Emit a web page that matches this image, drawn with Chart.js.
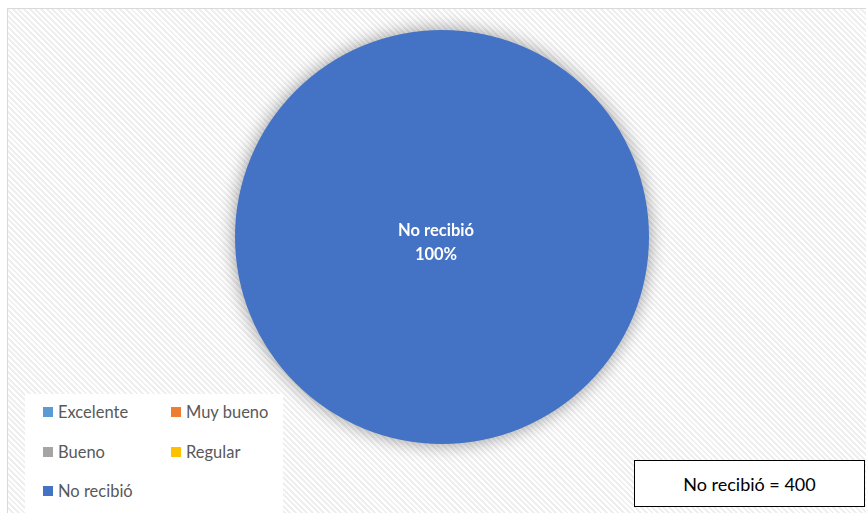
<!DOCTYPE html>
<html>
<head>
<meta charset="utf-8">
<script src="https://cdn.jsdelivr.net/npm/chart.js@4"></script>
<style>
  html, body { margin: 0; padding: 0; background: #fff; }
  #wrap {
    position: relative; width: 866px; height: 513px; overflow: hidden;
  }
  #frame {
    position: absolute; left: 7px; top: 8px; width: 880px; height: 520px;
    border-left: 1px solid #d9d9d9; border-top: 1px solid #d9d9d9;
    background: repeating-linear-gradient(45deg, #ffffff 0 2px, #efefef 2px 4px);
  }
  #chart { position: absolute; left: 0; top: 0; }
  #legend {
    position: absolute; left: 25px; top: 394px; width: 258px; height: 125px;
    background: #fff;
    font-family: Lato, "Open Sans", sans-serif; font-size: 16.5px; color: #595959;
  }
  .item { position: absolute; display: flex; align-items: center; white-space: nowrap; }
  .item i { display: inline-block; width: 10px; height: 10px; margin-right: 5px; }
  #note {
    position: absolute; left: 634px; top: 460px; width: 229px; height: 45px;
    border: 1.5px solid #000; background: #fff;
    font-family: Lato, "Open Sans", sans-serif; font-size: 18px; color: #000;
    display: flex; align-items: center; justify-content: center;
  }
</style>
</head>
<body>
<div id="wrap">
  <div id="frame"></div>
  <canvas id="chart" width="866" height="513"></canvas>
  <div id="legend"></div>
  <div id="note"></div>
</div>
<script>
// categories and values
const categories = ['Excelente', 'Muy bueno', 'Bueno', 'Regular', 'No recibió'];
const counts = [0, 0, 0, 0, 400];
const colors = ['#5b9bd5', '#ed7d31', '#a5a5a5', '#ffc000', '#4472c4'];

const total = counts.reduce((a, b) => a + b, 0);

/* ── soft shadow round the pie ─────────────── */
const pieShadow = {
  id: 'pieShadow',
  beforeDatasetsDraw(chart) {
    const ctx = chart.ctx;
    ctx.save();
    ctx.shadowColor = 'rgba(0,0,0,0.4)';
    ctx.shadowBlur = 18;
  },
  afterDatasetsDraw(chart) {
    chart.ctx.restore();
  },
};

/* ── category + percent labels on slices ───── */
const sliceLabels = {
  id: 'sliceLabels',
  afterDraw(chart) {
    const ctx = chart.ctx;
    const meta = chart.getDatasetMeta(0);
    ctx.save();
    ctx.fillStyle = '#fff';
    ctx.font = 'bold 16.5px Lato, "Open Sans", sans-serif';
    ctx.textAlign = 'center';
    ctx.textBaseline = 'middle';
    meta.data.forEach((arc, i) => {
      const v = counts[i];
      if (!v) return;
      const pct = Math.round(v / total * 100) + '%';
      let x, y;
      if (v === total) { x = arc.x - 6; y = arc.y + 6; }
      else { const p = arc.tooltipPosition(); x = p.x; y = p.y; }
      ctx.fillText(categories[i], x, y - 12);
      ctx.fillText(pct, x, y + 12);
    });
    ctx.restore();
  },
};

const chart = new Chart(document.getElementById('chart'), {
  type: 'pie',
  data: {
    labels: categories,
    datasets: [{
      data: counts,
      backgroundColor: colors,
      borderWidth: 0,
    }],
  },
  options: {
    responsive: false,
    animation: false,
    layout: { padding: { left: 235, right: 217, top: 30, bottom: 69 } },
    plugins: { legend: { display: false }, tooltip: { enabled: false } },
  },
  plugins: [pieShadow, sliceLabels],
});

// legend, two columns like the original
const legendPos = [[18, 18], [146, 18], [18, 58], [146, 58], [18, 97]];
const legend = document.getElementById('legend');
categories.forEach((c, i) => {
  const d = document.createElement('div');
  d.className = 'item';
  d.style.left = legendPos[i][0] + 'px';
  d.style.top = (legendPos[i][1] - 10) + 'px';
  d.innerHTML = '<i style="background:' + colors[i] + '"></i>' + c;
  legend.appendChild(d);
});

document.getElementById('note').textContent = categories[4] + ' = ' + counts[4];
</script>
</body>
</html>
